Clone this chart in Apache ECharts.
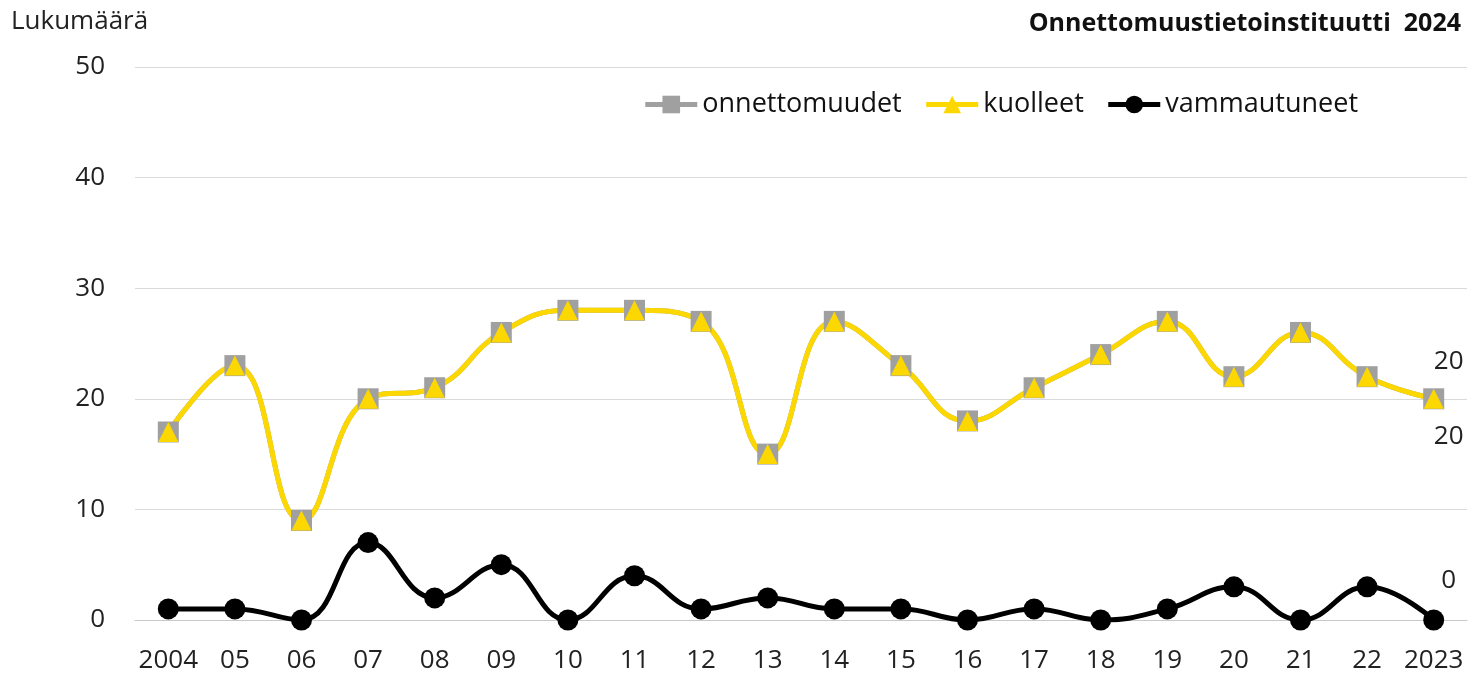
<!DOCTYPE html>
<html>
<head>
<meta charset="utf-8">
<script src="https://cdn.jsdelivr.net/npm/echarts@6/dist/echarts.min.js"></script>
<style>
  html, body { margin: 0; padding: 0; background: #fff; }
  #main { width: 1475px; height: 679px; }
</style>
</head>
<body>
<div id="main"></div>
<script>
// vuodet
var vuodet = ['2004', '05', '06', '07', '08', '09', '10', '11', '12', '13',
              '14', '15', '16', '17', '18', '19', '20', '21', '22', '2023'];
// onnettomuudet ja kuolleet (samat luvut)
var onnettomuudet = [17, 23, 9, 20, 21, 26, 28, 28, 27, 15, 27, 23, 18, 21, 24, 27, 22, 26, 22, 20];
var kuolleet = [17, 23, 9, 20, 21, 26, 28, 28, 27, 15, 27, 23, 18, 21, 24, 27, 22, 26, 22, 20];
var vammautuneet = [1, 1, 0, 7, 2, 5, 0, 4, 1, 2, 1, 1, 0, 1, 0, 1, 3, 0, 3, 0];

var fontti = '"Open Sans", "Noto Sans", sans-serif';
var viimeinen = vuodet.length - 1;

// vain viimeinen arvo näytetään
function loppuLabel(sijainti, offsetY) {
    return {
        show: true,
        position: sijainti,
        offset: [15, offsetY],
        fontFamily: fontti,
        fontSize: 26,
        color: '#222',
        formatter: function (p) {
            return p.dataIndex === viimeinen ? p.value : '';
        }
    };
}

var myChart = echarts.init(document.getElementById('main'));
var option = {
    animation: false,
    textStyle: { fontFamily: fontti },
    title: [
        {
            text: 'Lukumäärä',
            left: 6, top: 4,
            textStyle: { fontFamily: fontti, fontSize: 26, fontWeight: 'normal', color: '#222' }
        },
        {
            text: 'Onnettomuustietoinstituutti  2024',
            right: 9, top: 6,
            textStyle: { fontFamily: fontti, fontSize: 25, fontWeight: 'bold', color: '#111' }
        }
    ],
    legend: {
        top: 86,
        right: 112,
        itemWidth: 52,
        itemHeight: 22,
        itemGap: 22,
        lineStyle: { width: 5 },
        textStyle: { fontFamily: fontti, fontSize: 27, color: '#111' },
        data: ['onnettomuudet', 'kuolleet', 'vammautuneet']
    },
    grid: { left: 135, right: 8, top: 67, bottom: 59 },
    xAxis: {
        type: 'category',
        data: vuodet,
        boundaryGap: true,
        axisLine: { lineStyle: { color: '#c8c8c8', width: 1 } },
        axisTick: { show: false },
        axisLabel: { fontFamily: fontti, fontSize: 26, color: '#222', margin: 28, interval: 0 }
    },
    yAxis: {
        type: 'value',
        min: 0, max: 50, interval: 10,
        axisLine: { show: false },
        axisTick: { show: false },
        axisLabel: { fontFamily: fontti, fontSize: 26, color: '#222', margin: 30 },
        splitLine: { lineStyle: { color: '#dadada', width: 1 } }
    },
    series: [
        {
            name: 'onnettomuudet',
            type: 'line',
            smooth: 0.45,
            data: onnettomuudet,
            symbol: 'rect',
            symbolSize: 21,
            lineStyle: { color: '#a0a0a0', width: 5 },
            itemStyle: { color: '#a0a0a0' },
            label: loppuLabel('top', -9)
        },
        {
            name: 'kuolleet',
            type: 'line',
            smooth: 0.45,
            data: kuolleet,
            symbol: 'triangle',
            symbolSize: 20,
            lineStyle: { color: '#fcd800', width: 5 },
            itemStyle: { color: '#fcd800' },
            label: loppuLabel('bottom', 10)
        },
        {
            name: 'vammautuneet',
            type: 'line',
            smooth: 0.45,
            data: vammautuneet,
            symbol: 'circle',
            symbolSize: 21,
            lineStyle: { color: '#000', width: 5 },
            itemStyle: { color: '#000' },
            label: loppuLabel('top', -11)
        }
    ]
};
myChart.setOption(option);
</script>
</body>
</html>
